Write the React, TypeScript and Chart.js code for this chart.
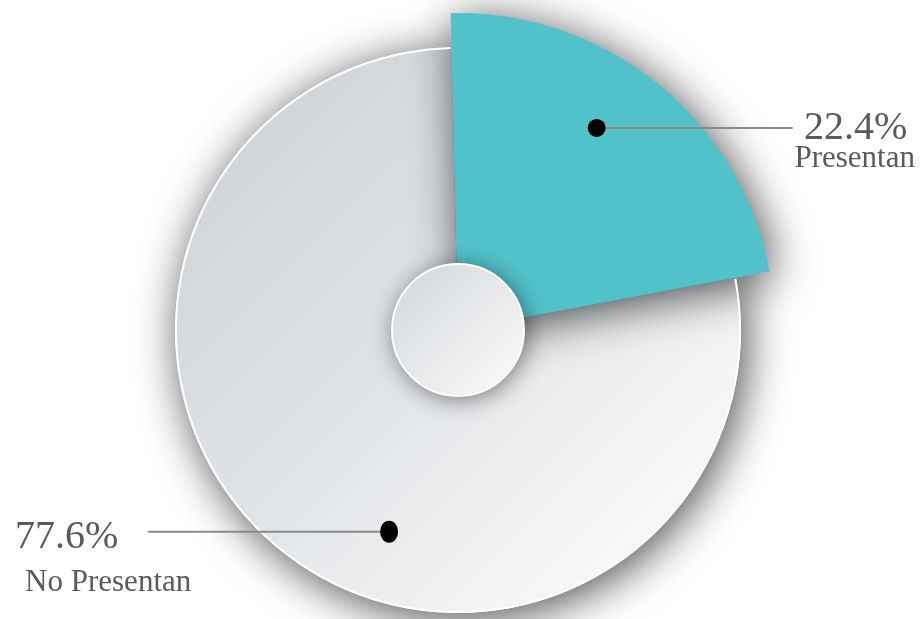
import React, { useEffect, useRef } from 'react';
import { Chart, registerables } from 'chart.js';

Chart.register(...registerables);

const categories = ['No Presentan', 'Presentan'];
const values = [77.6, 22.4];
const valueLabels = ['77.6%', '22.4%'];
const tealColor = '#52c2ca';

export default function App() {
  const ref = useRef<HTMLCanvasElement>(null);

  useEffect(() => {
    const canvas = ref.current;
    if (!canvas) return;

    const boostPlugin = {
      id: 'boost',
      afterUpdate(chart: any) {
        const meta = chart.getDatasetMeta(0);
        const ctrl: any = meta.controller;
        const arc: any = meta.data[1];
        if (arc) arc.outerRadius = ctrl.outerRadius * 1.12;
      },
    };

    const decoPlugin = {
      id: 'deco',
      beforeDatasetsDraw(chart: any) {
        const c = chart.ctx;
        c.save();
        c.shadowColor = 'rgba(0,0,0,0.7)';
        c.shadowBlur = 45;
        c.shadowOffsetX = 5;
        c.shadowOffsetY = 6;
      },
      afterDatasetsDraw(chart: any) {
        const c: CanvasRenderingContext2D = chart.ctx;
        c.restore();
        const meta = chart.getDatasetMeta(0);
        const gray: any = meta.data[0];
        const teal: any = meta.data[1];
        const cx = gray.x;
        const cy = gray.y;
        const r = gray.outerRadius;

        // white rim on gray slice
        c.save();
        c.beginPath();
        c.arc(cx, cy, r - 1, gray.startAngle + 0.004, gray.endAngle - 0.004);
        c.strokeStyle = '#ffffff';
        c.lineWidth = 2;
        c.stroke();
        c.restore();

        // center disc
        const hr = r * 0.233;
        c.save();
        c.shadowColor = 'rgba(0,0,0,0.5)';
        c.shadowBlur = 24;
        c.shadowOffsetX = 2;
        c.shadowOffsetY = 3;
        const hg = c.createLinearGradient(cx - hr, cy - hr, cx + hr, cy + hr);
        hg.addColorStop(0, '#d2d6da');
        hg.addColorStop(1, '#fbfbfb');
        c.beginPath();
        c.arc(cx, cy, hr, 0, Math.PI * 2);
        c.fillStyle = hg;
        c.fill();
        c.restore();
        c.beginPath();
        c.arc(cx, cy, hr, 0, Math.PI * 2);
        c.strokeStyle = '#ffffff';
        c.lineWidth = 2;
        c.stroke();

        // labels
        const dotAt = (arc: any, frac: number, rf: number) => {
          const a = arc.startAngle + (arc.endAngle - arc.startAngle) * frac;
          return { x: cx + Math.cos(a) * r * rf, y: cy + Math.sin(a) * r * rf };
        };
        c.textBaseline = 'alphabetic';

        // Presentan (right)
        const d1 = dotAt(teal, 0.444, 0.866);
        c.strokeStyle = '#8a8a8a';
        c.lineWidth = 2;
        c.beginPath();
        c.moveTo(d1.x, d1.y);
        c.lineTo(d1.x + 196, d1.y);
        c.stroke();
        c.fillStyle = '#000';
        c.beginPath();
        c.ellipse(d1.x, d1.y, 9, 9, 0, 0, Math.PI * 2);
        c.fill();
        c.fillStyle = '#5a5a5a';
        c.textAlign = 'center';
        c.font = '40px "Liberation Serif", "Times New Roman", serif';
        c.fillText(valueLabels[1], d1.x + 259, d1.y + 11);
        c.font = '31px "Liberation Serif", "Times New Roman", serif';
        c.fillText(categories[1], d1.x + 258, d1.y + 39);

        // No Presentan (left)
        const d0 = dotAt(gray, 0.428, 0.753);
        c.strokeStyle = '#8a8a8a';
        c.beginPath();
        c.moveTo(d0.x, d0.y);
        c.lineTo(d0.x - 241, d0.y);
        c.stroke();
        c.fillStyle = '#000';
        c.beginPath();
        c.ellipse(d0.x, d0.y, 9, 11, 0, 0, Math.PI * 2);
        c.fill();
        c.fillStyle = '#5a5a5a';
        c.textAlign = 'left';
        c.font = '40px "Liberation Serif", "Times New Roman", serif';
        c.fillText(valueLabels[0], d0.x - 374, d0.y + 16);
        c.font = '31px "Liberation Serif", "Times New Roman", serif';
        c.fillText(categories[0], d0.x - 364, d0.y + 59);
      },
    };

    const chart = new Chart(canvas, {
      type: 'pie',
      data: {
        labels: categories,
        datasets: [
          {
            data: values,
            backgroundColor: (ctx: any) => {
              if (ctx.dataIndex === 1) return tealColor;
              const area = ctx.chart.chartArea;
              if (!area) return '#dcdfe2';
              const g = ctx.chart.ctx.createLinearGradient(area.left, area.top, area.right, area.bottom);
              g.addColorStop(0, '#cbcfd4');
              g.addColorStop(0.45, '#dfe2e5');
              g.addColorStop(0.8, '#f4f5f6');
              g.addColorStop(1, '#fdfdfd');
              return g;
            },
            borderWidth: 0,
            hoverOffset: 0,
          },
        ],
      },
      options: {
        animation: false,
        responsive: true,
        maintainAspectRatio: false,
        events: [],
        rotation: 79.3,
        layout: { padding: { left: 175, right: 183, top: 47, bottom: 6 } },
        plugins: {
          legend: { display: false },
          tooltip: { enabled: false },
        },
      },
      plugins: [boostPlugin, decoPlugin],
    });

    return () => chart.destroy();
  }, []);

  return (
    <div style={{ position: 'fixed', left: 0, top: 0, width: 924, height: 619, background: '#fff' }}>
      <canvas ref={ref} />
    </div>
  );
}
